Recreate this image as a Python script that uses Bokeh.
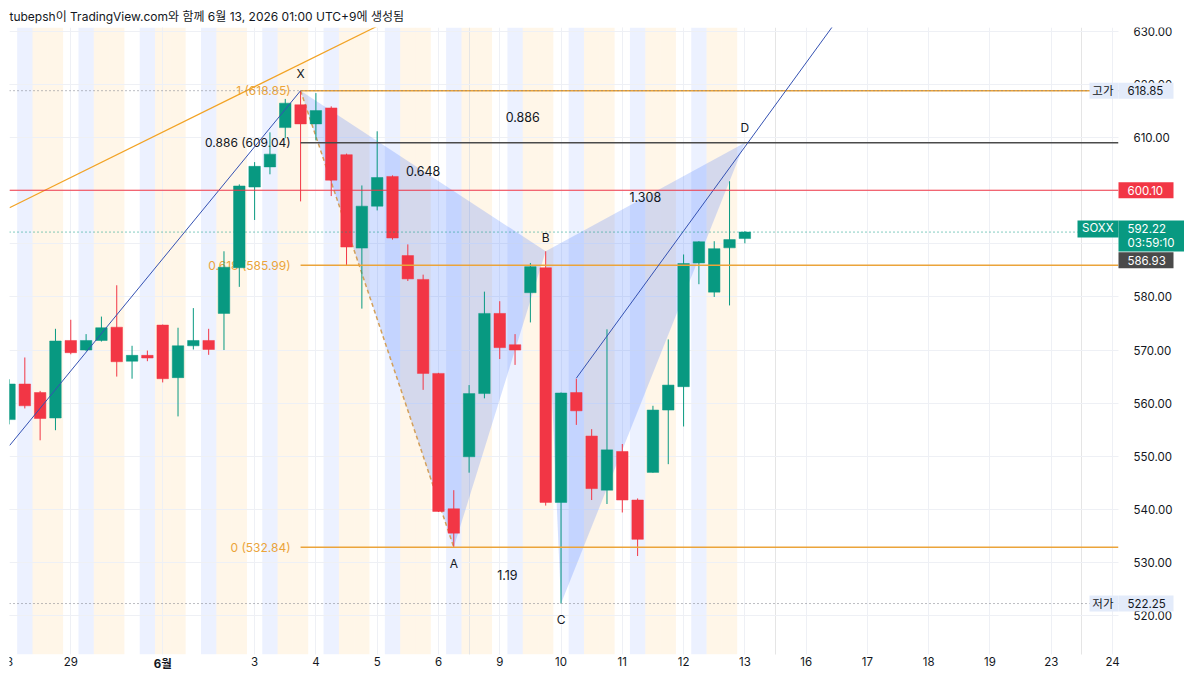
from bokeh.plotting import figure
from bokeh.models import (Range1d, FixedTicker, ColumnDataSource, PrintfTickFormatter,
                          LinearAxis, Grid)
from bokeh.core.properties import value
from bokeh.embed import file_html
from bokeh.resources import INLINE

# ---------------- data ----------------
bar_index = list(range(49))
opens = [556.9, 563.6, 562.0, 557.2, 571.8, 570.0, 571.8, 574.3, 567.9, 569.0,
         574.7, 564.8, 570.8, 571.8, 576.9, 585.5, 600.7, 604.5, 611.9, 616.2,
         612.6, 615.6, 606.8, 589.2, 597.1, 602.7, 587.8, 583.3, 565.6, 540.1,
         549.9, 561.8, 576.9, 571.0, 580.8, 585.5, 541.3, 562.0, 553.8, 543.6,
         550.9, 541.75, 546.95, 558.7, 563.1, 586.4, 580.9, 589.25, 591.0]
closes = [563.6, 559.5, 557.1, 571.7, 569.5, 571.8, 574.2, 567.8, 569.0, 568.5,
          564.6, 570.8, 571.8, 570.1, 585.6, 600.9, 604.6, 606.9, 616.5, 612.6,
          615.1, 602.0, 589.4, 597.1, 602.5, 591.1, 583.4, 565.6, 539.6, 535.5,
          561.8, 576.9, 570.45, 570.0, 585.7, 541.3, 561.9, 558.55, 543.9, 551.2,
          541.75, 534.35, 558.7, 563.4, 586.3, 590.4, 589.1, 590.8, 592.22]
highs = [564.5, 568.6, 562.3, 574.0, 575.7, 573.0, 576.3, 582.2, 570.8, 569.9,
         574.8, 574.2, 577.9, 574.0, 588.6, 601.2, 605.4, 611.0, 617.3, 618.85,
         618.4, 615.9, 607.0, 601.0, 611.2, 602.9, 589.9, 584.2, 565.7, 543.6,
         563.4, 581.0, 579.2, 573.0, 586.4, 588.6, 562.0, 564.6, 555.1, 573.9,
         552.3, 542.05, 559.5, 572.0, 588.0, 590.5, 590.5, 601.8, 592.4]
lows = [556.0, 559.0, 553.0, 554.9, 569.2, 569.8, 571.6, 565.0, 564.6, 567.9,
        563.9, 557.5, 570.1, 569.1, 570.0, 581.9, 594.5, 603.1, 609.9, 598.0,
        609.5, 599.0, 585.9, 577.8, 596.3, 590.8, 583.0, 562.5, 539.5, 532.84,
        546.9, 560.9, 568.3, 567.2, 575.2, 540.7, 522.25, 555.9, 541.75, 541.0,
        539.4, 531.2, 546.9, 548.5, 555.6, 582.4, 580.0, 578.4, 590.1]

# 4 bars per (KST) day: regular, post-market, pre-market, pre-market
session_cycle = ["regular", "post", "pre", "pre"]

x_ticks = [0, 4, 10, 16, 20, 24, 28, 32, 36, 40, 44, 48, 52, 56, 60, 64, 68, 72]
x_tick_labels = ["8", "29", "6월", "3", "4", "5", "6", "9", "10", "11", "12", "13",
                 "16", "17", "18", "19", "23", "24"]
month_tick = "6월"
y_ticks = [520, 530, 540, 550, 560, 570, 580, 590, 600, 610, 620, 630]

pattern_names = ["X", "A", "B", "C", "D"]
pattern_x = [19, 29, 35, 36, 48]
pattern_y = [618.85, 532.84, 588.6, 522.25, 609.04]
ratio_pairs = [(0, 4), (0, 2), (2, 4), (1, 3)]
ratio_labels = ["0.886", "0.648", "1.308", "1.19"]

fib_start = 19
fib_end = 29
fib_high = 618.85
fib_low = 532.84
fib_levels = [1, 0.886, 0.618, 0]

trend_orange_x = [0, 24]
trend_orange_y = [596.8, 631.0]
trend_blue1_x = [0, 19]
trend_blue1_y = [552.0, 618.85]
trend_blue2_x = [37, 55]
trend_blue2_y = [564.7, 636.0]

symbol = "SOXX"
last_price = 592.22
countdown = "03:59:10"
alert_price = 600.10
marked_price = 586.93
period_high = 618.85
period_low = 522.25
high_word = "고가"
low_word = "저가"
title_text = "tubepsh이 TradingView.com와 함께 6월 13, 2026 01:00 UTC+9에 생성됨"

# ---------------- layout / style ----------------
FONT = "Inter, 'Noto Sans CJK KR', sans-serif"
TXT = "#131722"
GREEN = "#089981"
RED = "#f23645"
ORANGE = "#eba43a"
FIB_DARK = "#4a4a4a"
LIGHT = "#e3ebfa"

W, H = 1184, 670
LEFT, TOP = 9, 27
PXX = 15.32          # px per bar
PXY = 5.309          # px per price unit
X0 = 0.0
X_END = X0 + (W - LEFT) / PXX
AXIS_X = X0 + (1118 - LEFT) / PXX          # price-scale boundary
Y1 = 630 + (31 - TOP) / PXY
Y0 = Y1 - (H - TOP) / PXY
AXIS_Y = Y1 - (654 - TOP) / PXY            # time-scale boundary
LABEL_Y = Y1 - (648 - TOP) / PXY           # time-scale label anchor


def dx(px):
    return px / PXX


def dy(px):
    return px / PXY


p = figure(width=W, height=H, x_range=Range1d(X0, X_END), y_range=Range1d(Y0, Y1),
           output_backend="svg", toolbar_location=None,
           x_axis_location=None, y_axis_location=None,
           min_border_left=LEFT, min_border_right=0, min_border_top=TOP, min_border_bottom=0)
p.outline_line_color = None
p.title.text = title_text
p.title.text_font = FONT
p.title.text_font_size = "12px"
p.title.text_font_style = "normal"
p.title.text_color = TXT
p.title.standoff = 8
p.title.align = "left"

p.add_layout(Grid(dimension=0, ticker=FixedTicker(ticks=x_ticks), grid_line_color="#eef0f5"))
p.add_layout(Grid(dimension=1, ticker=FixedTicker(ticks=y_ticks), grid_line_color="#eef0f5"))

# session background bands
band_x, band_c = [], []
for i in bar_index:
    s = session_cycle[i % 4]
    if s == "post":
        band_x.append(i); band_c.append("#2962ff")
    elif s == "pre":
        band_x.append(i); band_c.append("#ff9800")
p.vbar(x=band_x, width=1.0, bottom=AXIS_Y, top=Y1, fill_color=band_c, fill_alpha=0.09,
       line_color=None, level="image")

# harmonic pattern fills
tri1 = [0, 1, 2]
tri2 = [2, 3, 4]
p.patches(xs=[[pattern_x[k] for k in tri1], [pattern_x[k] for k in tri2]],
          ys=[[pattern_y[k] for k in tri1], [pattern_y[k] for k in tri2]],
          fill_color="#2962ff", fill_alpha=0.2, line_color=None)

# fib trend (dashed)
p.line(x=[fib_start, fib_end], y=[fib_high, fib_low], line_color="#d4a05a",
       line_dash="4 3", line_width=1.5)

# fib level labels (under the candles)
fib_prices = [fib_low + lv * (fib_high - fib_low) for lv in fib_levels]
fib_colors = [ORANGE, FIB_DARK, ORANGE, ORANGE]
p.text(x=[fib_start] * 4, y=fib_prices,
       text=[f"{lv:g} ({pr:.2f})" for lv, pr in zip(fib_levels, fib_prices)],
       text_color=[ORANGE, TXT, ORANGE, ORANGE], text_align="right", text_baseline="middle",
       x_offset=-10, text_font=value(FONT), text_font_size="12px")

# candles
cols = [GREEN if c >= o else RED for o, c in zip(opens, closes)]
src = ColumnDataSource(dict(x=bar_index, o=opens, h=highs, l=lows, c=closes,
                            top=[max(o, c) for o, c in zip(opens, closes)],
                            bot=[min(o, c) for o, c in zip(opens, closes)], col=cols))
p.segment(x0="x", y0="l", x1="x", y1="h", line_color="col", line_width=1, source=src)
p.vbar(x="x", width=0.75, top="top", bottom="bot", fill_color="col", line_color="col",
       line_width=0.5, source=src)

# fib level lines
p.segment(x0=[fib_start] * 4, x1=[AXIS_X] * 4, y0=fib_prices, y1=fib_prices,
          line_color=fib_colors, line_width=1.5)

# trend lines
p.line(x=trend_orange_x, y=trend_orange_y, line_color="#f2a325", line_width=1.2)
p.line(x=trend_blue1_x, y=trend_blue1_y, line_color="#3451b2", line_width=1)
p.line(x=trend_blue2_x, y=trend_blue2_y, line_color="#3451b2", line_width=1)

# horizontal price lines (full width)
p.segment(x0=[X0], x1=[AXIS_X], y0=[alert_price], y1=[alert_price], line_color=RED, line_width=1)
p.segment(x0=[X0] * 2, x1=[AXIS_X] * 2, y0=[period_high, period_low],
          y1=[period_high, period_low], line_color="#787b86", line_dash="1 3", line_width=1)
p.segment(x0=[X0], x1=[AXIS_X], y0=[last_price], y1=[last_price], line_color=GREEN,
          line_dash="1 3", line_width=1)

# pattern point labels and ratios
p.text(x=pattern_x, y=pattern_y, text=pattern_names, y_offset=[-17, 16, -14, 16, -15],
       text_align="center", text_baseline="middle", text_color=TXT,
       text_font=value(FONT), text_font_size="12px")
mid_x = [(pattern_x[a] + pattern_x[b]) / 2 for a, b in ratio_pairs]
mid_y = [(pattern_y[a] + pattern_y[b]) / 2 for a, b in ratio_pairs]
p.text(x=mid_x, y=mid_y, text=ratio_labels, text_align="center", text_baseline="middle",
       text_color=TXT, text_font=value(FONT), text_font_size="12.5px")

# white price-scale and time-scale areas
p.quad(left=[AXIS_X, X0], right=[X_END, X_END], bottom=[Y0, Y0], top=[Y1, AXIS_Y],
       fill_color="white", line_color=None)

# axes drawn inside the frame at the scale boundaries
yax = LinearAxis(fixed_location=AXIS_X, ticker=FixedTicker(ticks=y_ticks),
                 formatter=PrintfTickFormatter(format="%.2f"))
xax = LinearAxis(fixed_location=LABEL_Y, ticker=FixedTicker(ticks=x_ticks),
                 major_label_overrides={t: ("" if lab == month_tick else lab)
                                        for t, lab in zip(x_ticks, x_tick_labels)})
mi = x_tick_labels.index(month_tick)
xax_m = LinearAxis(fixed_location=LABEL_Y, ticker=FixedTicker(ticks=[x_ticks[mi]]),
                   major_label_overrides={x_ticks[mi]: month_tick})
for ax in (xax, xax_m, yax):
    ax.axis_line_color = None
    ax.major_tick_line_color = None
    ax.minor_tick_line_color = None
    ax.major_label_text_font = FONT
    ax.major_label_text_font_size = "11.5px"
    ax.major_label_text_color = TXT
xax_m.major_label_text_font_style = "bold"
yax.major_label_standoff = 9
xax.major_label_standoff = 2
xax_m.major_label_standoff = 2
p.add_layout(yax, "right")
p.add_layout(xax, "below")
p.add_layout(xax_m, "below")

# ---------------- price tags on the price scale ----------------
# (box left, box right) in px relative to the price-scale boundary, and
# (top, bottom) in px relative to the tagged price
tag_boxes = [
    # text lines, price, bg, fg, (l, r), (t, b), side
    ([high_word], period_high, LIGHT, TXT, (-29, 0), (8, 8), "in"),
    ([f"{period_high:.2f}"], period_high, LIGHT, TXT, (0, 55), (8, 8), "out"),
    ([f"{alert_price:.2f}"], alert_price, RED, "white", (0, 55), (8, 8), "out"),
    ([symbol], last_price, GREEN, "white", (-41, 0), (11.6, 5.4), "in"),
    ([f"{last_price:.2f}", countdown], last_price, GREEN, "white", (0, 66), (11.6, 19.4), "out"),
    ([f"{marked_price:.2f}"], marked_price, "#4a4a4a", "white", (0, 55), (8, 8), "out"),
    ([low_word], period_low, LIGHT, TXT, (-29, 0), (8, 8), "in"),
    ([f"{period_low:.2f}"], period_low, LIGHT, TXT, (0, 55), (8, 8), "out"),
]
bl, br, bt, bb, bc = [], [], [], [], []
tx, ty, tt, tc, ta, to = [], [], [], [], [], []
for lines, price, bg, fg, (l, r), (t, b), side in tag_boxes:
    bl.append(AXIS_X + dx(l)); br.append(AXIS_X + dx(r))
    bt.append(price + dy(t)); bb.append(price - dy(b)); bc.append(bg)
    top_px = t
    for k, line in enumerate(lines):
        center_px = top_px - 8 - 15 * k
        tx.append(AXIS_X); ty.append(price + dy(center_px)); tt.append(line); tc.append(fg)
        ta.append("left" if side == "out" else "right")
        to.append(9 if side == "out" else -5)
p.quad(left=bl, right=br, top=bt, bottom=bb, fill_color=bc, line_color=None, level="overlay")
p.text(x=tx, y=ty, text=tt, text_color=tc, text_align=ta, x_offset=to,
       text_baseline="middle", text_font=value(FONT), text_font_size="11.5px",
       level="overlay")

open("out.html", "w").write(file_html(p, INLINE))
